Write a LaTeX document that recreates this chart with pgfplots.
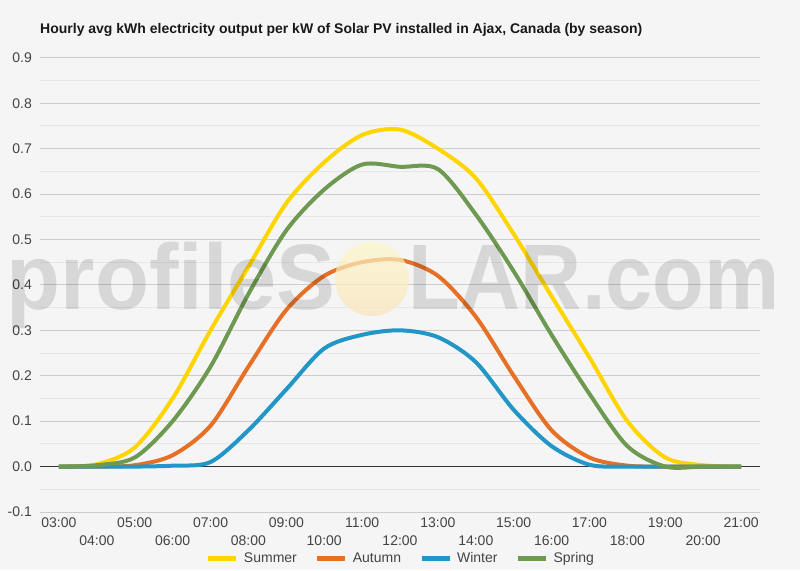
\documentclass[border=0pt]{standalone}
\usepackage{pgfplots}
\pgfplotsset{compat=1.18}
\usepackage{fontspec}
\setmainfont{Liberation Sans}
\definecolor{bg}{RGB}{245,245,245}
\definecolor{gridc}{RGB}{204,204,204}
\definecolor{gridm}{RGB}{230,230,230}
\definecolor{labc}{RGB}{68,68,68}
\definecolor{summer}{RGB}{255,213,0}
\definecolor{autumn}{RGB}{230,112,38}
\definecolor{winter}{RGB}{33,150,199}
\definecolor{spring}{RGB}{110,153,80}
\begin{document}
\begin{tikzpicture}[x=1pt,y=1pt]
\fill[bg] (0,0) rectangle (800,570);
\useasboundingbox (0,0) rectangle (800,570);
\node[anchor=base west, inner sep=0pt, font=\bfseries\fontsize{14}{16}\selectfont, text=black!90] at (40,536.7) {Hourly avg kWh electricity output per kW of Solar PV installed in Ajax, Canada (by season)};
\begin{axis}[
  at={(40pt,58pt)}, anchor=south west, scale only axis,
  width=720pt, height=454.2pt,
  xmin=-0.5, xmax=18.5, ymin=-0.1, ymax=0.9,
  axis line style={draw=none},
  xtick={0,2,...,18},
  xticklabels={03:00,05:00,07:00,09:00,11:00,13:00,15:00,17:00,19:00,21:00},
  extra x ticks={1,3,...,17},
  extra x tick labels={04:00,06:00,08:00,10:00,12:00,14:00,16:00,18:00,20:00},
  extra x tick style={xticklabel style={yshift=-17.7pt}},
  ytick={-0.1,0,0.1,0.2,0.3,0.4,0.5,0.6,0.7,0.8,0.9},
  minor ytick={-0.05,0.05,0.15,0.25,0.35,0.45,0.55,0.65,0.75,0.85},
  ymajorgrids, yminorgrids,
  major grid style={color=gridc, line width=1pt},
  minor grid style={color=gridm, line width=1pt},
  extra y ticks={0},
  extra y tick labels={},
  extra y tick style={grid=major, major grid style={color=black!80, line width=1pt}},
  major tick length=0pt, minor tick length=0pt,
  tick label style={font=\fontsize{14}{16}\selectfont, text=labc},
  yticklabel style={anchor=east, inner sep=0pt, xshift=-8pt},
  xticklabel style={anchor=north, inner sep=0pt, yshift=-6pt},
  yticklabel={\pgfmathprintnumber[fixed,fixed zerofill,precision=1,assume math mode=true]{\tick}},
  legend columns=4,
  legend style={at={(0.5,0)}, anchor=center, yshift=-46pt, draw=none, fill=none,
    font=\fontsize{14}{16}\selectfont, text=labc,
    nodes={inner sep=0pt},
    /tikz/every odd column/.append style={column sep=5pt},
    /tikz/every even column/.append style={column sep=18pt}},
  legend image code/.code={\draw[#1, line width=5pt, sharp plot] (0pt,0pt) -- (28pt,0pt);},
  every axis plot/.append style={line width=4pt, smooth, line join=round},
]
\addplot[summer] coordinates {(0,0) (1,0.005) (2,0.042) (3,0.15) (4,0.30) (5,0.44) (6,0.58) (7,0.67) (8,0.73) (9,0.742) (10,0.70) (11,0.635) (12,0.512) (13,0.375) (14,0.24) (15,0.10) (16,0.02) (17,0.003) (18,0)};
\addlegendentry{Summer}
\addplot[autumn] coordinates {(0,0) (1,0) (2,0.003) (3,0.025) (4,0.09) (5,0.22) (6,0.345) (7,0.42) (8,0.45) (9,0.455) (10,0.42) (11,0.33) (12,0.20) (13,0.08) (14,0.02) (15,0.002) (16,0) (17,0) (18,0)};
\addlegendentry{Autumn}
\addplot[winter] coordinates {(0,0) (1,0) (2,0) (3,0.002) (4,0.01) (5,0.08) (6,0.17) (7,0.26) (8,0.29) (9,0.30) (10,0.285) (11,0.23) (12,0.125) (13,0.045) (14,0.004) (15,0) (16,0) (17,0) (18,0)};
\addlegendentry{Winter}
\addplot[spring] coordinates {(0,0) (1,0.003) (2,0.02) (3,0.10) (4,0.22) (5,0.38) (6,0.52) (7,0.61) (8,0.665) (9,0.66) (10,0.655) (11,0.555) (12,0.43) (13,0.29) (14,0.16) (15,0.045) (16,0) (17,0) (18,0)};
\addlegendentry{Spring}
\end{axis}
% watermark
\shade[top color={rgb,255:red,252;green,248;blue,200}, bottom color={rgb,255:red,250;green,228;blue,185}, opacity=0.7] (372,291) circle (37);
\node[anchor=base east, inner sep=0pt, xscale=0.95, font=\bfseries\fontsize{93}{100}\selectfont, text=black, text opacity=0.12] at (336,260) {profileS};
\node[anchor=base west, inner sep=0pt, xscale=0.91, font=\bfseries\fontsize{93}{100}\selectfont, text=black, text opacity=0.12] at (408,260) {LAR.com};
\end{tikzpicture}
\end{document}
